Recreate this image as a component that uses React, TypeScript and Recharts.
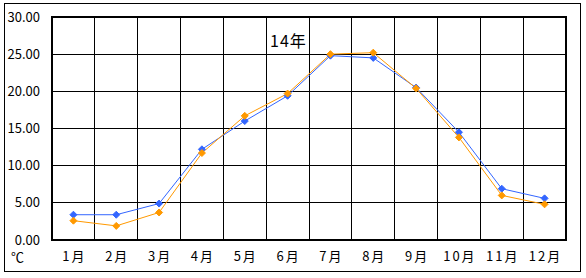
import React from "react";
import { LineChart, Line, XAxis, YAxis, CartesianGrid, ReferenceArea } from "recharts";

const months = ["1月", "2月", "3月", "4月", "5月", "6月", "7月", "8月", "9月", "10月", "11月", "12月"];
const blueSeries = [3.4, 3.4, 4.9, 12.2, 16.0, 19.4, 24.8, 24.5, 20.5, 14.5, 6.9, 5.6];
const orangeSeries = [2.6, 1.9, 3.7, 11.7, 16.7, 19.7, 25.0, 25.2, 20.4, 13.8, 6.0, 4.8];
const yTicks = [0, 5, 10, 15, 20, 25, 30];
const titleText = "14年";
const unitText = "℃";

const data = months.map((m, i) => ({ month: m, blue: blueSeries[i], orange: orangeSeries[i] }));

const FONT = "'Noto Sans CJK JP', 'DejaVu Sans', sans-serif";

const Diamond = (color: string) => (props: any) => {
  const { cx, cy, index } = props;
  if (cx == null || cy == null) return <g key={index} />;
  const r = 3.5;
  return (
    <path
      key={index}
      d={`M${cx},${cy - r} L${cx + r},${cy} L${cx},${cy + r} L${cx - r},${cy} Z`}
      fill={color}
      stroke={color}
      strokeWidth={1}
    />
  );
};

export default function App() {
  return (
    <div style={{ position: "absolute", left: 0, top: 0, width: 586, height: 278, background: "#fff", fontFamily: FONT }}>
      <div style={{ position: "absolute", left: 4, top: 3, width: 575, height: 267, border: "1px solid #000" }} />
      <div style={{ position: "absolute", left: 0, top: 0 }}>
        <LineChart width={586} height={278} data={data} margin={{ top: 17, right: 20, bottom: 0, left: 0 }}>
          <CartesianGrid
            stroke="#000"
            strokeWidth={1}
            shapeRendering="crispEdges"
            verticalCoordinatesGenerator={(p: any) => {
              const off = p.offset;
              const arr: number[] = [];
              for (let i = 1; i < months.length; i++) arr.push(off.left + (i * off.width) / months.length);
              return arr;
            }}
          />
          <XAxis
            dataKey="month"
            scale="band"
            height={38}
            tickLine={false}
            tickSize={0}
            tickMargin={12}
            axisLine={false}
            tick={{ fill: "#000", fontSize: 13, fontFamily: FONT, letterSpacing: 2, dx: 1 }}
            interval={0}
          />
          <YAxis
            domain={[0, 30]}
            ticks={yTicks}
            width={52}
            tickLine={false}
            tickSize={0}
            tickMargin={12}
            axisLine={false}
            tickFormatter={(v: number) => v.toFixed(2)}
            tick={{ fill: "#000", fontSize: 13, fontFamily: FONT }}
          />
          <ReferenceArea y1={0} y2={30} fill="none" fillOpacity={0} stroke="#000" strokeWidth={2} ifOverflow="visible" shapeRendering="crispEdges" />
          <Line
            type="linear"
            dataKey="blue"
            stroke="#3366FF"
            strokeWidth={1}
            dot={Diamond("#3366FF")}
            activeDot={false}
            isAnimationActive={false}
          />
          <Line
            type="linear"
            dataKey="orange"
            stroke="#FF9900"
            strokeWidth={1}
            dot={Diamond("#FF9900")}
            activeDot={false}
            isAnimationActive={false}
          />
        </LineChart>
      </div>
      <div style={{ position: "absolute", left: 270, top: 31, fontSize: 16, lineHeight: "18px", color: "#000", letterSpacing: 1 }}>{titleText}</div>
      <div style={{ position: "absolute", left: 11, top: 249, fontSize: 13, lineHeight: "16px", color: "#000" }}>{unitText}</div>
    </div>
  );
}
